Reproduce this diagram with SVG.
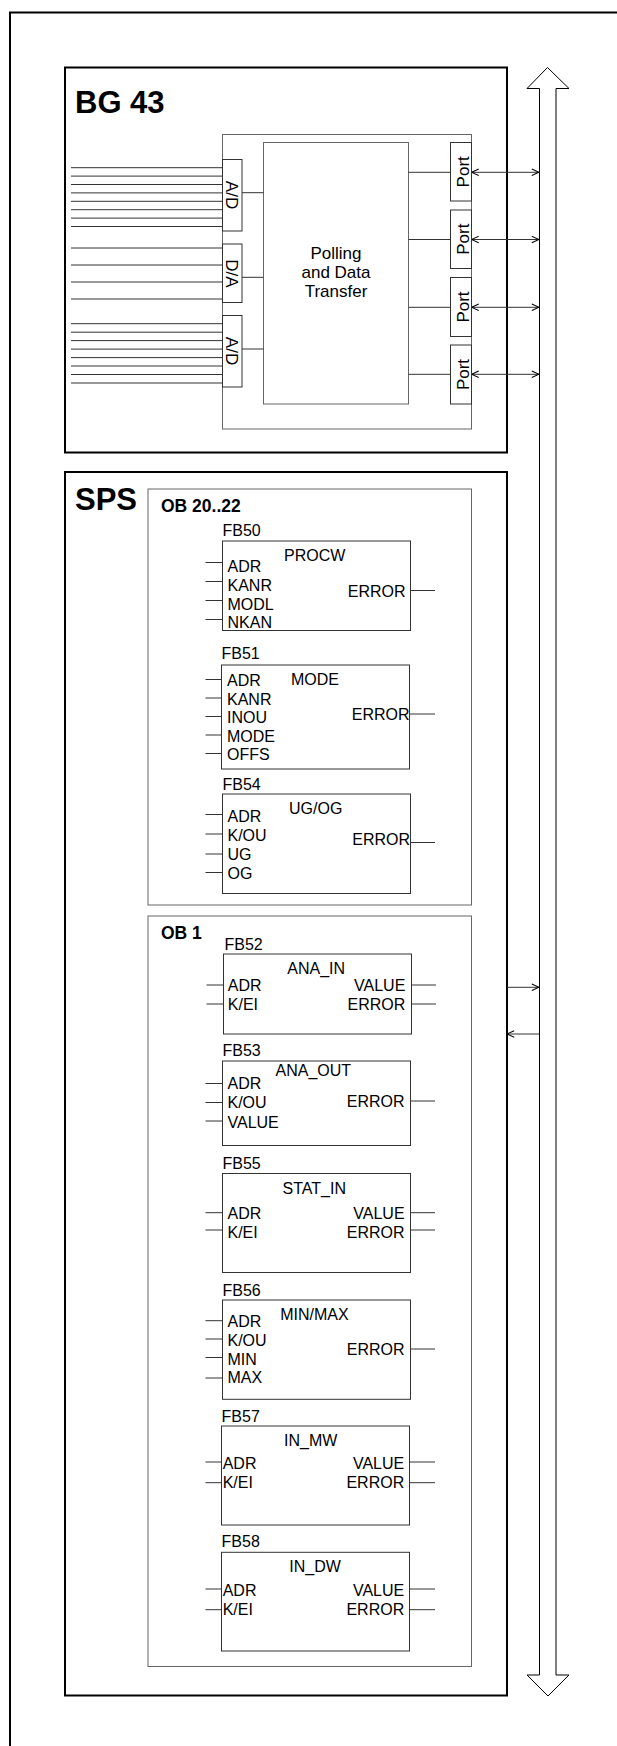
<svg xmlns="http://www.w3.org/2000/svg" width="617" height="1746" viewBox="0 0 617 1746">
<style>
  .frame{fill:none;stroke:#000;stroke-width:2}
  .box{fill:#fff;stroke:#333;stroke-width:1}
  .gbox{fill:none;stroke:#666;stroke-width:1}
  .ln{stroke:#333;stroke-width:1;fill:none}
  .bus{fill:#fff;stroke:#000;stroke-width:1}
  text{font-family:"Liberation Sans",Arial,sans-serif;font-size:16px;fill:#000}
  .big{font-size:31px;font-weight:bold}
  .ob{font-size:17.5px;font-weight:bold}
  .rot{font-size:17px}
  .poll{font-size:17px}
  .end{text-anchor:end}
  .mid{text-anchor:middle}
</style>
<defs>
  <marker id="ah" viewBox="0 0 10 10" refX="10" refY="5" markerWidth="8" markerHeight="8" markerUnits="userSpaceOnUse" orient="auto-start-reverse">
    <path d="M1,1 L10,5 L1,9" fill="none" stroke="#000" stroke-width="1.3"/>
  </marker>
</defs>

<path class="frame" d="M10,1750 V12.5 H620"/>

<g id="bus">
  <path class="bus" d="M539.5,1675 V88.5 H527 L547.5,67.5 L569,88.5 H556 V1675 H569 L548,1696 L527,1675 Z"/>
</g>

<g id="bg43">
  <rect class="frame" x="65" y="67.5" width="442" height="385"/>
  <text class="big" x="75" y="113">BG 43</text>
  <rect class="gbox" x="222.5" y="134.5" width="249" height="294.5"/>
</g>

<g id="polling">
  <rect class="gbox" x="263.5" y="142.5" width="145" height="261.5"/>
  <text class="mid poll" x="336" y="259.3">Polling</text>
  <text class="mid poll" x="336" y="278.3">and Data</text>
  <text class="mid poll" x="336" y="296.7">Transfer</text>
</g>

<g id="ad1">
  <rect class="box" x="222.5" y="159.5" width="19.5" height="71.5"/>
  <text transform="translate(225.5,195) rotate(90)" class="mid rot">A/D</text>
</g>
<g id="da">
  <rect class="box" x="222.5" y="244" width="19.5" height="58.5"/>
  <text transform="translate(225.5,273.3) rotate(90)" class="mid rot">D/A</text>
</g>
<g id="ad2">
  <rect class="box" x="222.5" y="315.5" width="19.5" height="71.5"/>
  <text transform="translate(225.5,351) rotate(90)" class="mid rot">A/D</text>
</g>

<g id="port1">
  <rect class="box" x="450.5" y="142.5" width="21" height="58.5"/>
  <text transform="translate(469,171.8) rotate(-90)" class="mid rot">Port</text>
</g>
<g id="port2">
  <rect class="box" x="450.5" y="210" width="21" height="58.5"/>
  <text transform="translate(469,239.2) rotate(-90)" class="mid rot">Port</text>
</g>
<g id="port3">
  <rect class="box" x="450.5" y="277.5" width="21" height="59"/>
  <text transform="translate(469,307) rotate(-90)" class="mid rot">Port</text>
</g>
<g id="port4">
  <rect class="box" x="450.5" y="345" width="21" height="59"/>
  <text transform="translate(469,374.5) rotate(-90)" class="mid rot">Port</text>
</g>

<g id="sps">
  <rect class="frame" x="65" y="472" width="442" height="1223.5"/>
  <text class="big" x="75" y="510">SPS</text>
</g>

<g id="ob2022">
  <rect class="gbox" x="148" y="489" width="323.5" height="416"/>
  <text class="ob" x="161" y="512.3">OB 20..22</text>
</g>

<g id="ob1">
  <rect class="gbox" x="148" y="916" width="323.5" height="750.5"/>
  <text class="ob" x="161" y="939.3">OB 1</text>
</g>

<g id="fb50">
  <text x="222.5" y="536">FB50</text>
  <rect class="box" x="222.5" y="541" width="188" height="89.5"/>
  <text x="284" y="561">PROCW</text>
  <text x="227.5" y="571.5">ADR</text>
  <text x="227.5" y="590.5">KANR</text>
  <text x="227.5" y="609.5">MODL</text>
  <text x="227.5" y="628.3">NKAN</text>
  <text class="end" x="405.5" y="597.3">ERROR</text>
</g>

<g id="fb51">
  <text x="221.5" y="659">FB51</text>
  <rect class="box" x="221.5" y="665" width="188" height="104"/>
  <text x="291" y="685">MODE</text>
  <text x="227" y="686">ADR</text>
  <text x="227" y="704.5">KANR</text>
  <text x="227" y="723">INOU</text>
  <text x="227" y="741.5">MODE</text>
  <text x="227" y="760">OFFS</text>
  <text class="end" x="409.5" y="720">ERROR</text>
</g>

<g id="fb54">
  <text x="222.5" y="789.5">FB54</text>
  <rect class="box" x="222.5" y="794" width="188" height="99.5"/>
  <text x="289" y="814">UG/OG</text>
  <text x="227.5" y="821.5">ADR</text>
  <text x="227.5" y="840.5">K/OU</text>
  <text x="227.5" y="859.5">UG</text>
  <text x="227.5" y="878.5">OG</text>
  <text class="end" x="410" y="845">ERROR</text>
</g>

<g id="fb52">
  <text x="224.5" y="949.5">FB52</text>
  <rect class="box" x="223.5" y="954" width="188" height="80"/>
  <text x="287.3" y="974">ANA_IN</text>
  <text x="227.8" y="990.7">ADR</text>
  <text x="227.8" y="1010">K/EI</text>
  <text class="end" x="405.3" y="990.7">VALUE</text>
  <text class="end" x="405.3" y="1010">ERROR</text>
</g>

<g id="fb53">
  <text x="222.5" y="1056">FB53</text>
  <rect class="box" x="222.5" y="1061" width="188" height="84.5"/>
  <text x="275.5" y="1076">ANA_OUT</text>
  <text x="227.5" y="1089.3">ADR</text>
  <text x="227.5" y="1108.3">K/OU</text>
  <text x="227.5" y="1127.7">VALUE</text>
  <text class="end" x="404.6" y="1106.7">ERROR</text>
</g>

<g id="fb55">
  <text x="222.5" y="1169.3">FB55</text>
  <rect class="box" x="222.5" y="1173.5" width="188" height="99"/>
  <text x="282.6" y="1194.3">STAT_IN</text>
  <text x="227.5" y="1219.3">ADR</text>
  <text x="227.5" y="1238.3">K/EI</text>
  <text class="end" x="404.6" y="1219.3">VALUE</text>
  <text class="end" x="404.6" y="1238.3">ERROR</text>
</g>

<g id="fb56">
  <text x="222.5" y="1295.7">FB56</text>
  <rect class="box" x="222.5" y="1300" width="188" height="99.3"/>
  <text x="280.2" y="1320">MIN/MAX</text>
  <text x="227.5" y="1327.3">ADR</text>
  <text x="227.5" y="1346">K/OU</text>
  <text x="227.5" y="1365">MIN</text>
  <text x="227.5" y="1383.3">MAX</text>
  <text class="end" x="404.6" y="1355">ERROR</text>
</g>

<g id="fb57">
  <text x="221.6" y="1421.7">FB57</text>
  <rect class="box" x="221.5" y="1426" width="188" height="99"/>
  <text x="284.1" y="1446">IN_MW</text>
  <text x="222.7" y="1469">ADR</text>
  <text x="222.7" y="1488.3">K/EI</text>
  <text class="end" x="404.2" y="1469">VALUE</text>
  <text class="end" x="404.2" y="1488.3">ERROR</text>
</g>

<g id="fb58">
  <text x="221.6" y="1547.3">FB58</text>
  <rect class="box" x="221.5" y="1552.3" width="188" height="98.7"/>
  <text x="289.3" y="1572.3">IN_DW</text>
  <text x="222.7" y="1596">ADR</text>
  <text x="222.7" y="1615">K/EI</text>
  <text class="end" x="404.2" y="1596">VALUE</text>
  <text class="end" x="404.2" y="1615">ERROR</text>
</g>

<g id="connectors">
  <path class="ln" d="M71,167.7H222.5 M71,176.1H222.5 M71,184.5H222.5 M71,192.9H222.5 M71,201.3H222.5 M71,209.7H222.5 M71,218.1H222.5 M71,226.5H222.5"/>
  <path class="ln" d="M71,248H222.5 M71,265H222.5 M71,282H222.5 M71,299H222.5"/>
  <path class="ln" d="M71,323.7H222.5 M71,332.2H222.5 M71,340.6H222.5 M71,349.1H222.5 M71,357.6H222.5 M71,366H222.5 M71,374.5H222.5 M71,383H222.5"/>
  <path class="ln" d="M242,192.7H263.5 M242,277.3H263.5 M242,349H263.5"/>
  <path class="ln" d="M408.5,172.3H450.5 M408.5,239.5H450.5 M408.5,307.3H450.5 M408.5,374.3H450.5"/>
  <line class="ln" x1="471.5" y1="172.3" x2="539" y2="172.3" marker-start="url(#ah)" marker-end="url(#ah)"/>
  <line class="ln" x1="471.5" y1="239.5" x2="539" y2="239.5" marker-start="url(#ah)" marker-end="url(#ah)"/>
  <line class="ln" x1="471.5" y1="307.3" x2="539" y2="307.3" marker-start="url(#ah)" marker-end="url(#ah)"/>
  <line class="ln" x1="471.5" y1="374.3" x2="539" y2="374.3" marker-start="url(#ah)" marker-end="url(#ah)"/>
  <line class="ln" x1="507" y1="987.3" x2="539" y2="987.3" marker-end="url(#ah)"/>
  <line class="ln" x1="539" y1="1034" x2="507" y2="1034" marker-end="url(#ah)"/>
  <path class="ln" d="M205.5,562.5H222.5 M205.5,581.5H222.5 M205.5,600.5H222.5 M205.5,619.5H222.5"/>
  <path class="ln" d="M205.5,679.5H221.5 M205.5,698H221.5 M205.5,716.5H221.5 M205.5,735H221.5 M205.5,753.5H221.5"/>
  <path class="ln" d="M205.5,814.5H222.5 M205.5,834H222.5 M205.5,854H222.5 M205.5,872.5H222.5"/>
  <path class="ln" d="M206.5,985H223.5 M206.5,1004H223.5"/>
  <path class="ln" d="M205.5,1083.5H222.5 M205.5,1102.5H222.5 M205.5,1121H222.5"/>
  <path class="ln" d="M205.5,1212.7H222.5 M205.5,1230H222.5"/>
  <path class="ln" d="M205.5,1320.7H222.5 M205.5,1339H222.5 M205.5,1357.5H222.5 M205.5,1378H222.5"/>
  <path class="ln" d="M205.5,1462H221.5 M205.5,1482.7H221.5"/>
  <path class="ln" d="M205.5,1589H221.5 M205.5,1609.7H221.5"/>
  <path class="ln" d="M410.5,590.5H435"/>
  <path class="ln" d="M409.5,714H435"/>
  <path class="ln" d="M410.5,842.5H435"/>
  <path class="ln" d="M411.5,985H436 M411.5,1004H436"/>
  <path class="ln" d="M410.5,1101H435"/>
  <path class="ln" d="M410.5,1212.7H435 M410.5,1230H435"/>
  <path class="ln" d="M410.5,1349H435"/>
  <path class="ln" d="M409.5,1462H435 M409.5,1482.7H435"/>
  <path class="ln" d="M409.5,1589H435 M409.5,1609.7H435"/>
</g>
</svg>
